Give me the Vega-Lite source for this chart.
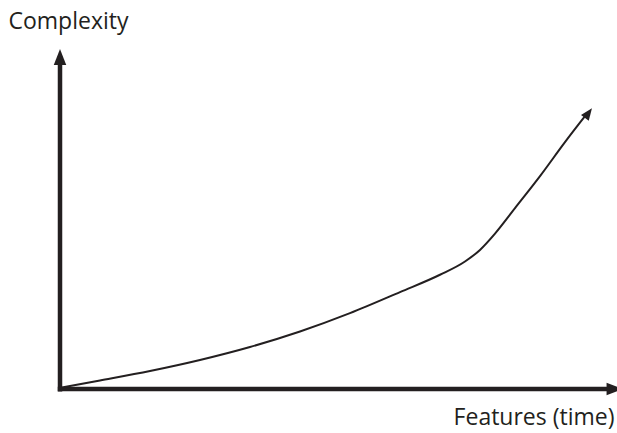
{
  "$schema": "https://vega.github.io/schema/vega-lite/v6.json",
  "width": 557,
  "height": 340,
  "autosize": {"type": "none"},
  "padding": {"left": 60, "top": 49, "right": 0, "bottom": 44},
  "background": "white",
  "config": {
    "view": {"stroke": null},
    "axis": {
      "domain": false, "ticks": false, "labels": false, "grid": false,
      "titleFont": "Open Sans", "titleFontSize": 23, "titleFontWeight": "normal",
      "titleColor": "#231f20", "titleBaseline": "alphabetic"
    }
  },
  "datasets": {
    "curve": [
      {"x": 0.2, "y": 0.4},
      {"x": 7.18, "y": 2.5},
      {"x": 16.16, "y": 5.29},
      {"x": 25.13, "y": 8.53},
      {"x": 34.11, "y": 12.35},
      {"x": 43.09, "y": 16.91},
      {"x": 52.06, "y": 22.3},
      {"x": 61.04, "y": 28.5},
      {"x": 68.22, "y": 33.6},
      {"x": 72.71, "y": 37.5},
      {"x": 75.4, "y": 40.9},
      {"x": 78.1, "y": 45.7},
      {"x": 81.69, "y": 53.2},
      {"x": 86.18, "y": 62.6},
      {"x": 90.66, "y": 72.6},
      {"x": 94.43, "y": 80.6}
    ],
    "axes": [
      {"x": 0, "y": -0.7, "x2": 0, "y2": 96},
      {"x": -0.4, "y": 0, "x2": 98.5, "y2": 0}
    ],
    "axisHeads": [
      {"x": 0, "y": 100, "angle": 0},
      {"x": 101, "y": 0, "angle": 90}
    ],
    "curveHead": [
      {"x": 95.5, "y": 82.6, "angle": 36}
    ]
  },
  "layer": [
    {
      "data": {"name": "axes"},
      "mark": {"type": "rule", "stroke": "#231f20", "strokeWidth": 4.5},
      "encoding": {
        "x": {"field": "x", "type": "quantitative", "scale": {"domain": [0, 100], "nice": false, "zero": false},
              "axis": {"title": "Features (time)", "titleAnchor": "start", "titleAlign": "right", "titleX": 554, "titleY": 35}},
        "y": {"field": "y", "type": "quantitative", "scale": {"domain": [0, 100], "nice": false, "zero": false},
              "axis": {"title": "Complexity", "titleAngle": 0, "titleAnchor": "start", "titleAlign": "left", "titleX": -52, "titleY": -21}},
        "x2": {"field": "x2"},
        "y2": {"field": "y2"}
      }
    },
    {
      "data": {"name": "curve"},
      "mark": {"type": "line", "stroke": "#231f20", "strokeWidth": 2, "interpolate": "monotone"},
      "encoding": {
        "x": {"field": "x", "type": "quantitative"},
        "y": {"field": "y", "type": "quantitative"}
      }
    },
    {
      "data": {"name": "axisHeads"},
      "mark": {"type": "point", "shape": "M0,0L0.78,2L-0.78,2Z", "filled": true, "fill": "#231f20", "strokeWidth": 0, "size": 256, "opacity": 1},
      "encoding": {
        "x": {"field": "x", "type": "quantitative"},
        "y": {"field": "y", "type": "quantitative"},
        "angle": {"field": "angle", "type": "quantitative", "scale": null}
      }
    },
    {
      "data": {"name": "curveHead"},
      "mark": {"type": "point", "shape": "M0,0L0.8,2L-0.8,2Z", "filled": true, "fill": "#231f20", "strokeWidth": 0, "size": 144, "opacity": 1},
      "encoding": {
        "x": {"field": "x", "type": "quantitative"},
        "y": {"field": "y", "type": "quantitative"},
        "angle": {"field": "angle", "type": "quantitative", "scale": null}
      }
    }
  ]
}
